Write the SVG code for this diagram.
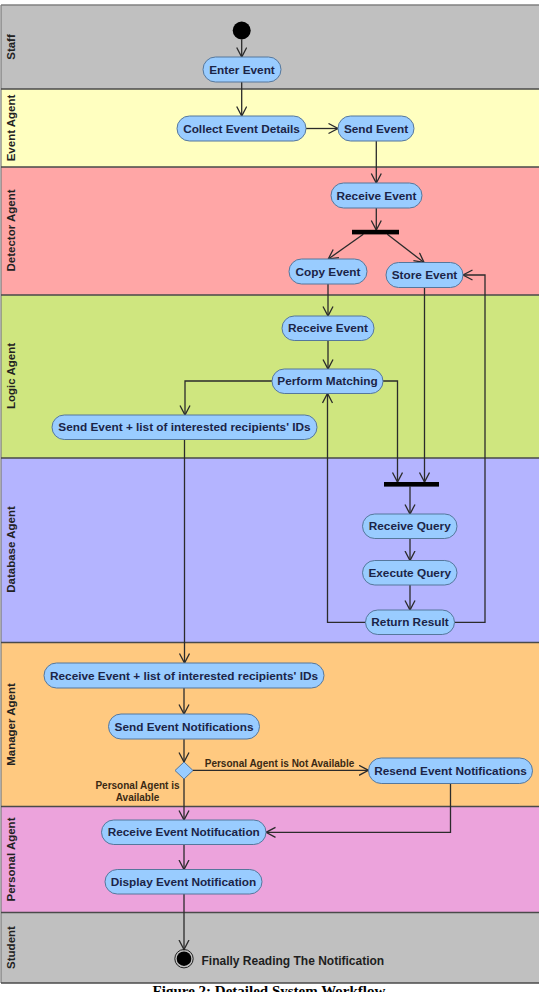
<svg xmlns="http://www.w3.org/2000/svg" width="539" height="992" viewBox="0 0 539 992">
<defs>
<marker id="arr" markerUnits="userSpaceOnUse" markerWidth="12" markerHeight="12" refX="10" refY="5.5" orient="auto">
<path d="M0.5,0.5 L10,5.5 L0.5,10.5" fill="none" stroke="#2b2b2b" stroke-width="1.3"/>
</marker>
<style>
.lane{stroke:none}
.sep{stroke:#4a4a4a;stroke-width:1.3;fill:none}
.lbl{font-family:"Liberation Sans",Arial,sans-serif;font-weight:bold;font-size:11.5px;fill:#222;text-anchor:middle;dominant-baseline:central}
.node rect{fill:#99ccff;stroke:#55779c;stroke-width:1}
.node text{font-family:"Liberation Sans",Arial,sans-serif;font-weight:bold;font-size:11.8px;fill:#1b2447;text-anchor:middle;dominant-baseline:central}
.bar{fill:#000}
.c{fill:none;stroke:#2b2b2b;stroke-width:1.3;marker-end:url(#arr)}
.cn{fill:none;stroke:#2b2b2b;stroke-width:1.3}
.guard{font-family:"Liberation Sans",Arial,sans-serif;font-weight:bold;font-size:10px;fill:#3a2a14;text-anchor:middle;dominant-baseline:central}
</style>
</defs>
<rect x="0" y="0" width="539" height="992" fill="#ffffff"/>
<g id="lanes">
<rect class="lane" x="1" y="5" width="538" height="84" fill="#c0c0c0"/>
<rect class="lane" x="1" y="89" width="538" height="78" fill="#ffffc0"/>
<rect class="lane" x="1" y="167" width="538" height="128" fill="#ffa6a6"/>
<rect class="lane" x="1" y="295" width="538" height="163" fill="#cfe67f"/>
<rect class="lane" x="1" y="458" width="538" height="184.5" fill="#b4b4ff"/>
<rect class="lane" x="1" y="642.5" width="538" height="164" fill="#ffc980"/>
<rect class="lane" x="1" y="806.5" width="538" height="106" fill="#eca3dc"/>
<rect class="lane" x="1" y="912.5" width="538" height="70.5" fill="#c0c0c0"/>
<path d="M1,5 H539" stroke="#808080" stroke-width="1.3" fill="none"/>
<path d="M1,5 V983" stroke="#808080" stroke-width="1.3" fill="none"/>
<path class="sep" d="M1,89 H539 M1,167 H539 M1,295 H539 M1,458 H539 M1,642.5 H539 M1,806.5 H539 M1,912.5 H539 M1,983 H539"/>
<text class="lbl" transform="translate(11,47) rotate(-90)">Staff</text>
<text class="lbl" transform="translate(11,128) rotate(-90)">Event Agent</text>
<text class="lbl" transform="translate(11,230.5) rotate(-90)">Detector Agent</text>
<text class="lbl" transform="translate(11,376) rotate(-90)">Logic Agent</text>
<text class="lbl" transform="translate(11,549.5) rotate(-90)">Database Agent</text>
<text class="lbl" transform="translate(11,724.5) rotate(-90)">Manager Agent</text>
<text class="lbl" transform="translate(11,859.5) rotate(-90)">Personal Agent</text>
<text class="lbl" transform="translate(11,947.5) rotate(-90)">Student</text>
</g>
<g id="connectors">
<path class="c" d="M241.7,39.5 V57"/>
<path class="c" d="M241.7,82 V116"/>
<path class="c" d="M306,128.5 H338"/>
<path class="c" d="M376.3,141 V183"/>
<path class="c" d="M376.3,208 V230"/>
<path class="c" d="M363.3,234.3 L328.3,259"/>
<path class="c" d="M387.3,234.3 L424,262.5"/>
<path class="c" d="M328,284 V316"/>
<path class="c" d="M328,340.5 V369"/>
<path class="c" d="M272,381 H185 V415"/>
<path class="c" d="M383,381 H397.5 V482"/>
<path class="c" d="M424.5,287.5 V482"/>
<path class="c" d="M410,486.6 V514"/>
<path class="c" d="M410,538.5 V560.5"/>
<path class="c" d="M410,585 V610"/>
<path class="c" d="M365.5,622.3 H327.5 V393.5"/>
<path class="c" d="M454.5,622.3 H485 V275 H463"/>
<path class="c" d="M184.5,439.5 V663"/>
<path class="c" d="M184,688 V714"/>
<path class="c" d="M184,739 V762"/>
<path class="c" d="M193,770.3 H368.5"/>
<path class="c" d="M184,779 V820"/>
<path class="c" d="M450.5,783.5 V832.3 H266"/>
<path class="c" d="M184,844.5 V869.5"/>
<path class="c" d="M184,894 V949.5"/>
<text class="guard" x="279.5" y="763.5">Personal Agent is Not Available</text>
<text class="guard" x="137.5" y="785.7">Personal Agent is</text>
<text class="guard" x="137.5" y="797">Available</text>
</g>
<g id="start"><circle cx="241.7" cy="30.5" r="9" fill="#000"/></g>
<g id="enter-event" class="node"><rect x="203" y="57" width="78" height="25" rx="12.5"/><text x="242" y="69.5">Enter Event</text></g>
<g id="collect-event-details" class="node"><rect x="177" y="116" width="129" height="25" rx="12.5"/><text x="241.5" y="128.5">Collect Event Details</text></g>
<g id="send-event" class="node"><rect x="338" y="116" width="76" height="25" rx="12.5"/><text x="376" y="128.5">Send Event</text></g>
<g id="receive-event-detector" class="node"><rect x="331" y="183" width="91" height="25" rx="12.5"/><text x="376.5" y="195.5">Receive Event</text></g>
<g id="fork"><rect class="bar" x="352" y="229.8" width="47" height="4.6"/></g>
<g id="copy-event" class="node"><rect x="289" y="259" width="78" height="25" rx="12.5"/><text x="328" y="271.5">Copy Event</text></g>
<g id="store-event" class="node"><rect x="386" y="262.5" width="77" height="25" rx="12.5"/><text x="424.5" y="275">Store Event</text></g>
<g id="receive-event-logic" class="node"><rect x="282" y="316" width="92" height="24.5" rx="12.25"/><text x="328" y="328.3">Receive Event</text></g>
<g id="perform-matching" class="node"><rect x="272" y="369" width="111" height="24.5" rx="12.25"/><text x="327.5" y="381.3">Perform Matching</text></g>
<g id="send-event-list" class="node"><rect x="52" y="415" width="265" height="24.5" rx="12.25"/><text x="184.5" y="427.3">Send Event + list of interested recipients' IDs</text></g>
<g id="join"><rect class="bar" x="384" y="482" width="55" height="4.6"/></g>
<g id="receive-query" class="node"><rect x="362.5" y="514" width="94.5" height="24.5" rx="12.25"/><text x="409.75" y="526.3">Receive Query</text></g>
<g id="execute-query" class="node"><rect x="362.5" y="560.5" width="94.5" height="24.5" rx="12.25"/><text x="409.75" y="572.8">Execute Query</text></g>
<g id="return-result" class="node"><rect x="365.5" y="610" width="89" height="24.5" rx="12.25"/><text x="410" y="622.3">Return Result</text></g>
<g id="receive-event-list" class="node"><rect x="44" y="663" width="280" height="25" rx="12.5"/><text x="184" y="675.5">Receive Event + list of interested recipients' IDs</text></g>
<g id="send-event-notifications" class="node"><rect x="108.5" y="714" width="151" height="25" rx="12.5"/><text x="184" y="726.5">Send Event Notifications</text></g>
<g id="decision"><path d="M184,762 L193,770.5 L184,779 L175,770.5 Z" fill="#99ccff" stroke="#55779c" stroke-width="1"/></g>
<g id="resend-event-notifications" class="node"><rect x="368.5" y="758" width="164" height="25.5" rx="12.75"/><text x="450.5" y="770.8">Resend Event Notifications</text></g>
<g id="receive-event-notifucation" class="node"><rect x="101.5" y="820" width="164.5" height="24.5" rx="12.25"/><text x="183.75" y="832.3">Receive Event Notifucation</text></g>
<g id="display-event-notification" class="node"><rect x="105" y="869.5" width="157" height="24.5" rx="12.25"/><text x="183.5" y="881.8">Display Event Notification</text></g>
<g id="end"><circle cx="184" cy="958.7" r="9.2" fill="none" stroke="#222" stroke-width="1"/><circle cx="184" cy="958.7" r="7.3" fill="#000"/></g>
<g id="end-label"><text x="201.5" y="960.7" font-family="Liberation Sans, Arial, sans-serif" font-weight="bold" font-size="12px" fill="#1e1e1e" dominant-baseline="central">Finally Reading The Notification</text></g>
<g id="caption"><text x="269" y="996" font-family="Liberation Serif, Times New Roman, serif" font-weight="bold" font-size="15px" fill="#000" text-anchor="middle">Figure 2: Detailed System Workflow</text></g>
</svg>
